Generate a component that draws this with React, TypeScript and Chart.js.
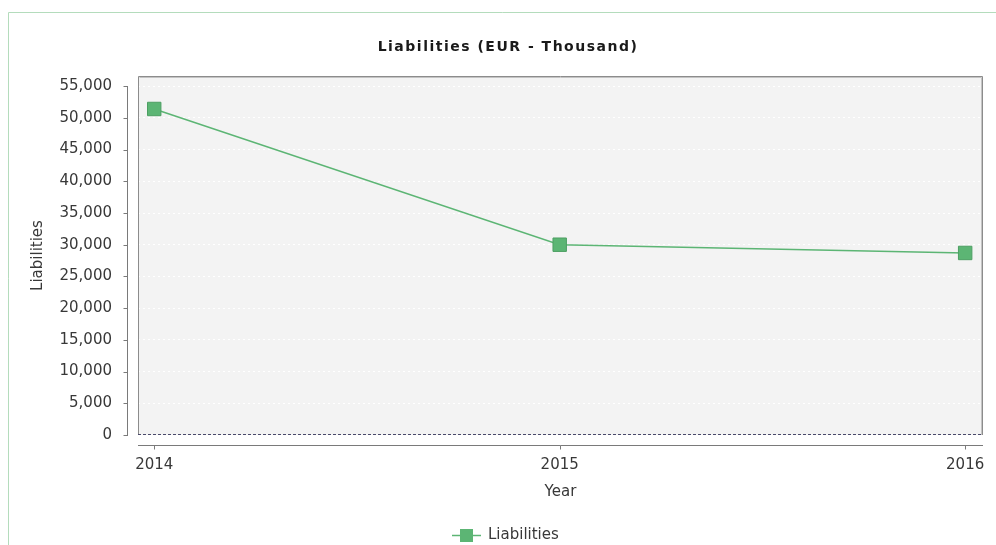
import React, { useEffect, useRef } from 'react';
import { Chart, registerables } from 'chart.js';

Chart.register(...registerables);

const years: number[] = [2014, 2015, 2016];
const liabilities: number[] = [51400, 30000, 28700];
const yTickValues: number[] = [0, 5000, 10000, 15000, 20000, 25000, 30000, 35000, 40000, 45000, 50000, 55000];
const chartTitle = 'Liabilities (EUR - Thousand)';
const xAxisTitle = 'Year';
const yAxisTitle = 'Liabilities';
const seriesName = 'Liabilities';

const GREEN = '#5cb574';
const GREEN_DARK = '#4c9f62';
const FONT = '"DejaVu Sans", Verdana, sans-serif';
const TEXT = '#383838';

const decor = {
  id: 'decor',
  beforeDraw(chart: any) {
    const { ctx, chartArea: a, width, height } = chart;
    ctx.save();
    ctx.fillStyle = '#ffffff';
    ctx.fillRect(0, 0, width, height);
    // outer frame
    ctx.strokeStyle = '#b4dcbc';
    ctx.lineWidth = 1;
    ctx.beginPath();
    ctx.moveTo(8.5, height);
    ctx.lineTo(8.5, 12.5);
    ctx.lineTo(width, 12.5);
    ctx.stroke();
    // plot background
    ctx.fillStyle = '#f3f3f3';
    ctx.fillRect(a.left, a.top, a.right - a.left, a.bottom - a.top);
    ctx.restore();
  },
  afterDraw(chart: any) {
    const { ctx, chartArea: a, scales } = chart;
    const xs = scales.x;
    const ys = scales.y;
    ctx.save();
    // plot border
    ctx.strokeStyle = '#8c8c8c';
    ctx.lineWidth = 1;
    ctx.beginPath();
    ctx.moveTo(a.left + 0.5, a.bottom);
    ctx.lineTo(a.left + 0.5, a.top + 0.5);
    ctx.lineTo(a.right - 0.5, a.top + 0.5);
    ctx.lineTo(a.right - 0.5, a.bottom);
    ctx.stroke();
    ctx.strokeStyle = '#c4c4c4';
    ctx.beginPath();
    ctx.moveTo(a.right - 1.5, a.top + 1.5);
    ctx.lineTo(a.right - 1.5, a.bottom);
    ctx.moveTo(a.left + 1.5, a.top + 1.5);
    ctx.lineTo(a.right - 1.5, a.top + 1.5);
    ctx.stroke();
    // zero line (dashed)
    const y0 = Math.round(ys.getPixelForValue(0)) - 0.5;
    ctx.strokeStyle = '#4a4a6a';
    ctx.setLineDash([3, 2]);
    ctx.beginPath();
    ctx.moveTo(a.left, y0);
    ctx.lineTo(a.right, y0);
    ctx.stroke();
    ctx.setLineDash([]);
    // y axis line with ticks
    const axX = a.left - 10.5;
    ctx.strokeStyle = '#7a7a7a';
    ctx.beginPath();
    ctx.moveTo(axX, Math.round(ys.getPixelForValue(yTickValues[yTickValues.length - 1])));
    ctx.lineTo(axX, Math.round(ys.getPixelForValue(0)) + 1);
    yTickValues.forEach((v) => {
      const py = Math.round(ys.getPixelForValue(v)) + 0.5;
      ctx.moveTo(axX - 4, py);
      ctx.lineTo(axX, py);
    });
    ctx.stroke();
    // x axis line with ticks
    const axY = a.bottom + 10.5;
    ctx.beginPath();
    ctx.moveTo(a.left, axY);
    ctx.lineTo(a.right, axY);
    years.forEach((yr) => {
      const px = Math.round(xs.getPixelForValue(yr)) + 0.5;
      ctx.moveTo(px, axY);
      ctx.lineTo(px, axY + 4);
    });
    ctx.stroke();
    // title
    ctx.fillStyle = '#1a1a1a';
    ctx.font = `bold 14px ${FONT}`;
    (ctx as any).letterSpacing = '1.5px';
    ctx.textAlign = 'center';
    ctx.textBaseline = 'middle';
    ctx.fillText(chartTitle, 508, 47);
    (ctx as any).letterSpacing = '0px';
    // legend
    const ly = 535.5;
    ctx.strokeStyle = GREEN;
    ctx.lineWidth = 1.5;
    ctx.beginPath();
    ctx.moveTo(452, ly);
    ctx.lineTo(481, ly);
    ctx.stroke();
    ctx.fillStyle = GREEN;
    ctx.fillRect(460, ly - 6.5, 13, 13);
    ctx.fillStyle = TEXT;
    ctx.font = `15px ${FONT}`;
    ctx.textAlign = 'left';
    ctx.fillText(seriesName, 488, ly);
    ctx.restore();
  },
};

export default function App() {
  const ref = useRef<HTMLCanvasElement | null>(null);
  useEffect(() => {
    if (!ref.current) return;
    const chart = new Chart(ref.current, {
      type: 'line',
      data: {
        datasets: [
          {
            label: seriesName,
            data: years.map((yr, i) => ({ x: yr, y: liabilities[i] })),
            borderColor: GREEN,
            borderWidth: 1.5,
            backgroundColor: GREEN,
            pointStyle: 'rect',
            pointRadius: 9.5,
            pointBorderColor: GREEN_DARK,
            pointBorderWidth: 1,
            pointBackgroundColor: GREEN,
            tension: 0,
            fill: false,
          },
        ],
      },
      options: {
        responsive: false,
        animation: false,
        devicePixelRatio: 1,
        layout: { padding: { left: 0, right: 13, top: 76, bottom: 0 } },
        plugins: {
          legend: { display: false },
          title: { display: false },
          tooltip: { enabled: false },
        },
        scales: {
          x: {
            type: 'linear',
            min: 2013.96,
            max: 2016.044,
            border: { display: false },
            grid: { display: false, drawTicks: false },
            afterBuildTicks: (scale: any) => {
              scale.ticks = years.map((v) => ({ value: v }));
            },
            afterFit: (scale: any) => {
              scale.height = 110;
              scale.paddingLeft = 0;
              scale.paddingRight = 0;
            },
            ticks: {
              padding: 21,
              color: TEXT,
              font: { family: FONT, size: 15 },
              callback: (v: any) => String(v),
              maxRotation: 0,
              autoSkip: false,
            },
            title: {
              display: true,
              text: xAxisTitle,
              color: TEXT,
              font: { family: FONT, size: 15 },
              padding: { top: 0, bottom: 43.5 },
            },
          },
          y: {
            type: 'linear',
            min: 0,
            max: 56600,
            border: { display: false, dash: [2, 3] },
            grid: {
              display: true,
              drawTicks: false,
              color: '#ffffff',
              lineWidth: 1,
            },
            afterBuildTicks: (scale: any) => {
              scale.ticks = yTickValues.map((v) => ({ value: v }));
            },
            afterFit: (scale: any) => {
              scale.width = 138;
              scale.paddingTop = 0;
              scale.paddingBottom = 0;
            },
            ticks: {
              padding: 26,
              color: TEXT,
              font: { family: FONT, size: 15 },
              callback: (v: any) => Number(v).toLocaleString('en-US'),
              autoSkip: false,
            },
            title: {
              display: true,
              text: yAxisTitle,
              color: TEXT,
              font: { family: FONT, size: 15 },
              padding: { top: 29.5, bottom: 0 },
            },
          },
        },
      },
      plugins: [decor],
    } as any);
    return () => chart.destroy();
  }, []);
  return (
    <div style={{ position: 'fixed', left: 0, top: 0, width: 996, height: 545 }}>
      <canvas ref={ref} width={996} height={545} style={{ display: 'block', width: 996, height: 545 }} />
    </div>
  );
}
